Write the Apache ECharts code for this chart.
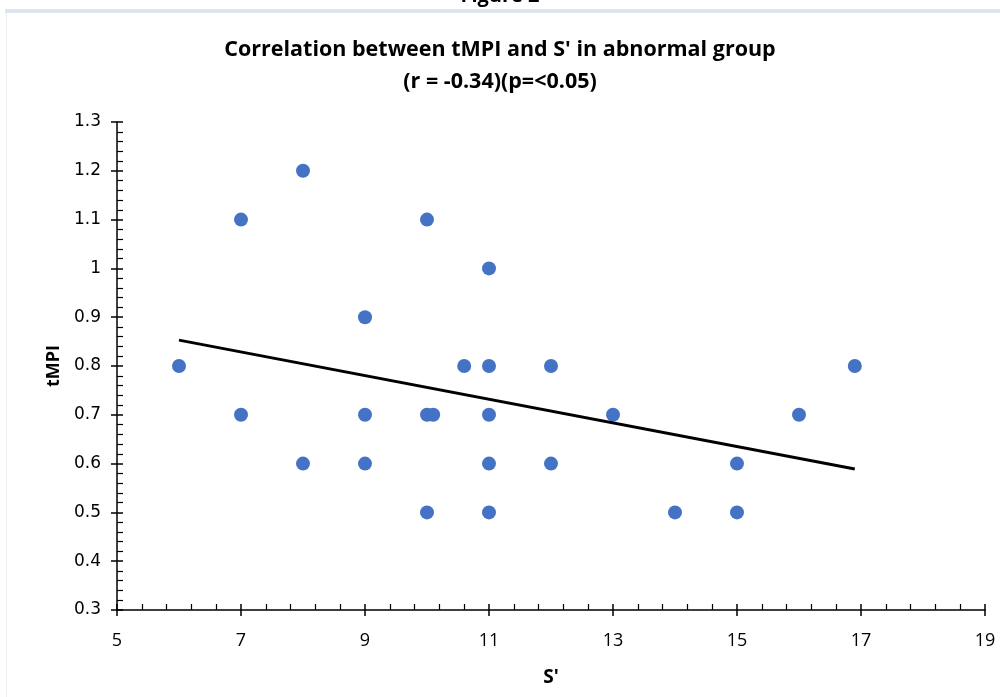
<!DOCTYPE html>
<html><head><meta charset="utf-8">
<script src="https://cdn.jsdelivr.net/npm/echarts@6/dist/echarts.min.js"></script>
<style>html,body{margin:0;padding:0;background:#fff}#c{width:1000px;height:697px}</style>
</head><body><div id="c"></div>
<script>
const titleLines = ["Correlation between tMPI and S' in abnormal group", "(r = -0.34)(p=<0.05)"];
const xName = "S'";
const yName = "tMPI";
const sPrime = [6, 7, 7, 8, 8, 9, 9, 9, 10, 10, 10.1, 10, 10.6, 11, 11, 11, 11, 11, 12, 12, 13, 14, 15, 15, 16, 16.9];
const tmpi   = [0.8, 1.1, 0.7, 1.2, 0.6, 0.9, 0.7, 0.6, 1.1, 0.7, 0.7, 0.5, 0.8, 1.0, 0.8, 0.7, 0.6, 0.5, 0.8, 0.6, 0.7, 0.5, 0.6, 0.5, 0.7, 0.8];
const trendX = [6, 16.9];
const trendY = [0.853, 0.589];

const points = sPrime.map((x, i) => [x, tmpi[i]]);
const trend = trendX.map((x, i) => [x, trendY[i]]);

const chart = echarts.init(document.getElementById('c'), null, {renderer: 'canvas'});
const axisLine = {show: true, onZero: false, lineStyle: {color: '#000', width: 1.5}};
chart.setOption({
  backgroundColor: '#fff',
  animation: false,
  title: {
    text: titleLines.join('\n'), left: 'center', top: 29,
    textStyle: {fontFamily: 'Open Sans', fontWeight: 'bold', fontSize: 21.5, lineHeight: 32, color: '#000'}
  },
  graphic: [
    {type: 'rect', shape: {x: 5, y: 9, width: 995, height: 4}, style: {fill: '#dde6f0'}},
    {type: 'rect', shape: {x: 6, y: 13, width: 1, height: 684}, style: {fill: '#eeeeee'}},
    {type: 'text', left: 'center', top: -14, style: {text: 'Figure 2', font: 'bold 20px Open Sans', fill: '#000'}}
  ],
  grid: {left: 117, right: 15, top: 122, bottom: 87},
  xAxis: [{
    type: 'value', min: 5, max: 19, interval: 2, position: 'bottom',
    name: xName, nameLocation: 'middle', nameGap: 58,
    nameTextStyle: {fontFamily: 'Open Sans', fontWeight: 'bold', fontSize: 19, color: '#000'},
    axisLine: axisLine,
    axisTick: {show: true, inside: true, length: 6, lineStyle: {color: '#000', width: 1.5}},
    minorTick: {show: true, splitNumber: 5, length: 6, lineStyle: {color: '#000', width: 1.2}},
    splitLine: {show: false},
    axisLabel: {margin: 22, fontFamily: 'Liberation Sans Narrow, Open Sans', fontSize: 18, color: '#000'}
  }, {
    type: 'value', min: 5, max: 19, interval: 2, position: 'bottom',
    axisLine: {show: false}, axisLabel: {show: false}, splitLine: {show: false},
    axisTick: {show: true, inside: false, length: 6, lineStyle: {color: '#000', width: 1.5}}
  }],
  yAxis: [{
    type: 'value', min: 0.3, max: 1.3, interval: 0.1,
    name: yName, nameLocation: 'middle', nameGap: 54, nameRotate: 90,
    nameTextStyle: {fontFamily: 'Open Sans', fontWeight: 'bold', fontSize: 18, color: '#000'},
    axisLine: axisLine,
    axisTick: {show: true, inside: true, length: 6, lineStyle: {color: '#000', width: 1.5}},
    minorTick: {show: true, splitNumber: 5, length: 6, lineStyle: {color: '#000', width: 1.2}},
    splitLine: {show: false},
    axisLabel: {margin: 16, fontFamily: 'DejaVu Sans', fontSize: 17, color: '#000',
      formatter: v => String(Math.round(v * 10) / 10)}
  }, {
    type: 'value', min: 0.3, max: 1.3, interval: 0.1, position: 'left',
    axisLine: {show: false}, axisLabel: {show: false}, splitLine: {show: false},
    axisTick: {show: true, inside: false, length: 6, lineStyle: {color: '#000', width: 1.5}}
  }],
  series: [{
    type: 'scatter', data: points, symbolSize: 14,
    itemStyle: {color: '#4472C4', opacity: 1}
  }, {
    type: 'line', data: trend, symbol: 'none',
    lineStyle: {color: '#000', width: 3}
  }]
});
</script></body></html>
